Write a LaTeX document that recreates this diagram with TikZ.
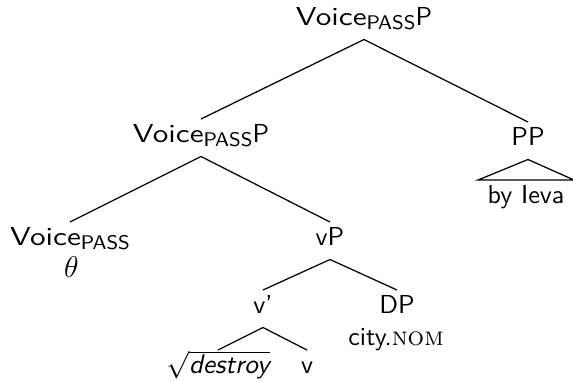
\documentclass[tikz,border=0pt]{standalone}
\usepackage{graphicx}
\renewcommand{\familydefault}{\sfdefault}
% the head label is set a little wider than the plain sans face
\newcommand{\voicehead}{\scalebox{1.2}[1]{Voice}}
\newcommand{\passsub}{\raisebox{-1.7pt}{\fontsize{7.9}{9}\selectfont PASS}}
\tikzset{
  lbl/.style={anchor=base, inner sep=2pt, text height=7pt, text depth=3.6pt,
              font=\fontsize{10.4}{12.5}\selectfont},
  branch/.style={line width=0.5pt}
}
\begin{document}
\begin{tikzpicture}[x=0.4pt, y=-0.4pt]
  \useasboundingbox (0,0) rectangle (573,381);
  % labels of the tree
  \node[lbl] (root) at (364,25) {\voicehead\passsub P};
  \node[lbl] (vpl) at (201,142) {\voicehead\passsub P};
  \node[lbl] (pp) at (528,145) {PP};
  \node[lbl, minimum width=38pt] (ieva) at (526,203) {by Ieva};
  \node[lbl] (voice) at (70,245) {\voicehead\passsub};
  \node[lbl] (theta) at (71.5,277) {\fontsize{11.5}{13}\selectfont$\theta$};
  \node[lbl] (vP) at (330,245) {vP};
  \node[lbl] (vbar) at (263,313) {v'};
  \node[lbl] (dp) at (397,313) {DP};
  \node[lbl] (nom) at (396,345) {city.\textrm{\textsc{nom}}};
  \node[lbl] (rt) at (218,373) {\fontsize{10.8}{13}\selectfont$\sqrt{\textit{destroy}}$};
  \node[lbl] (v) at (307,373) {v};
  % branches
  \draw[branch] (root.south) -- (vpl.north);
  \draw[branch] (root.south) -- (pp.north);
  \draw[branch] (vpl.south) -- (voice.north);
  \draw[branch] (vpl.south) -- (vP.north);
  \draw[branch] (vP.south) -- (vbar.north);
  \draw[branch] (vP.south) -- (dp.north);
  \draw[branch] (vbar.south) -- (rt.north);
  \draw[branch] (vbar.south) -- (v.north);
  % triangle over the unanalysed PP
  \draw[branch] (pp.south) -- (ieva.north west) -- (ieva.north east) -- cycle;
\end{tikzpicture}
\end{document}
